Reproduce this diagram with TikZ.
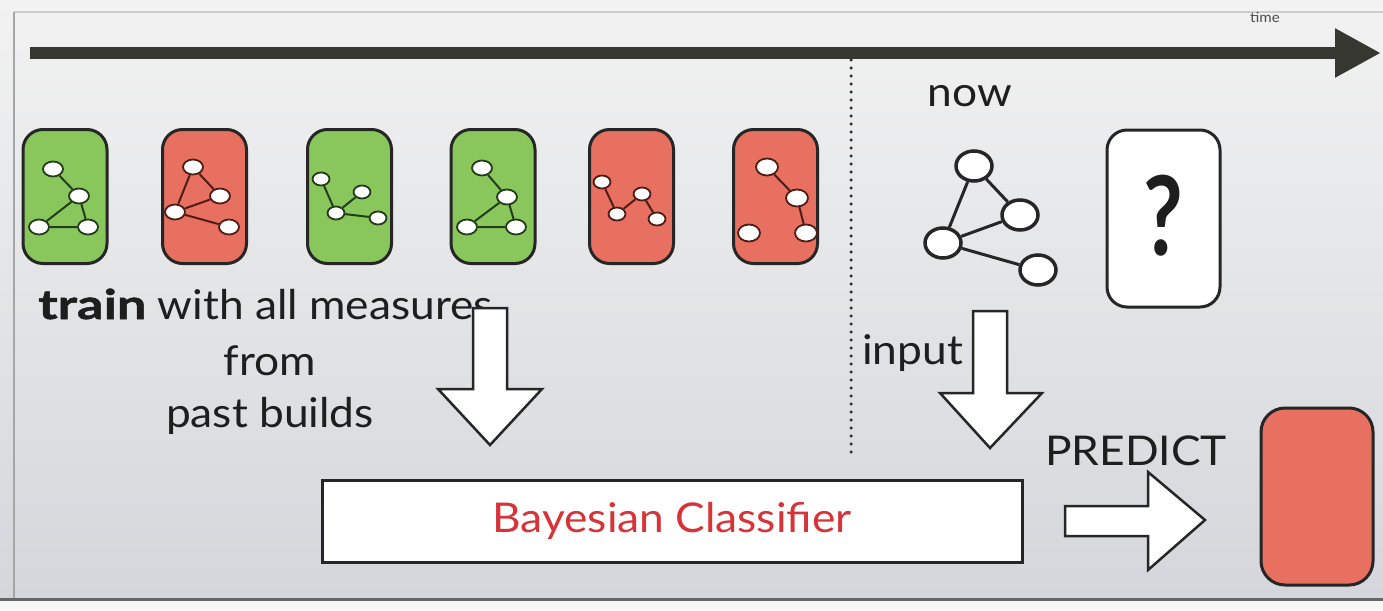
\documentclass[tikz,border=0pt]{standalone}
\usepackage{fontspec}
\usepackage{graphicx}
\setmainfont{Lato}[FakeStretch=1.08]
\newfontfamily\trainfont{Lato}[FakeStretch=1.28,FakeBold=1.2]
\usetikzlibrary{shapes.geometric,arrows.meta}
\definecolor{bgtop}{RGB}{242,242,242}
\definecolor{bgbot}{RGB}{212,214,219}
\definecolor{cgreen}{RGB}{137,199,92}
\definecolor{cred}{RGB}{232,112,96}
\definecolor{gedge}{RGB}{35,60,25}
\definecolor{redge}{RGB}{80,28,22}
\definecolor{tarrow}{RGB}{55,55,50}
\definecolor{clred}{RGB}{214,52,56}
\definecolor{txt}{RGB}{30,30,30}
\tikzset{
  card/.style={draw=black!85, line width=3pt, rounded corners=20pt, minimum width=84pt, minimum height=134pt, inner sep=0pt},
  gnode/.style={ellipse, draw=#1, fill=white, line width=1.8pt, minimum width=20pt, minimum height=15pt, inner sep=0pt},
  gedgestyle/.style={draw=#1, line width=2pt},
  bignode/.style={ellipse, draw=black!85, fill=white, line width=3.5pt, minimum width=36pt, minimum height=30pt, inner sep=0pt},
  bigedge/.style={draw=black!85, line width=3pt},
  blockarrow/.style={fill=white, draw=black!85, line width=2.5pt, line join=miter},
  lbl/.style={font=\fontsize{41}{43}\selectfont, text=txt, inner sep=0pt},
  dotline/.style={draw=black!80, line width=3.5pt, line cap=round, dash pattern=on 0pt off 8pt}
}
\begin{document}
\begin{tikzpicture}[x=1pt,y=-1pt]
\useasboundingbox (0,0) rectangle (1383,610);
\shade[top color=bgtop, bottom color=bgbot] (0,0) rectangle (1383,600);
\fill[black!3] (0,600) rectangle (1383,610);
\draw[black!20, line width=1.5pt] (14,12) -- (1383,12);
\draw[black!35, line width=2pt] (14,12) -- (14,598);
\draw[black!60, line width=3pt] (0,599) -- (1383,599);

% time arrow
\coordinate (ta) at (30,53);
\coordinate (tb) at (1381,53);
\draw[tarrow, line width=12pt, -{Triangle[length=46pt,width=46pt]}] (ta) -- (tb);
\node[font=\fontsize{14}{16}\selectfont, text=black!70] (time) at (1265,17) {time};

% dotted separator
\coordinate (d1) at (851,60);
\coordinate (d2) at (851,452);
\draw[dotline] (d1) -- (d2);

% past build cards
\node[card, fill=cgreen] (c1) at (65,196.5) {};
\node[card, fill=cred] (c2) at (204.5,196.5) {};
\node[card, fill=cgreen] (c3) at (349.5,196.5) {};
\node[card, fill=cgreen] (c4) at (493,196.5) {};
\node[card, fill=cred] (c5) at (631.5,196.5) {};
\node[card, fill=cred] (c6) at (775.5,196.5) {};

% card 1 graph
\node[gnode=gedge] (a1) at (53,169) {};
\node[gnode=gedge] (a2) at (79,196) {};
\node[gnode=gedge] (a3) at (39,227) {};
\node[gnode=gedge] (a4) at (88,227) {};
\draw[gedgestyle=gedge] (a1) -- (a2) (a2) -- (a3) (a2) -- (a4) (a3) -- (a4);
% card 2 graph
\node[gnode=redge] (b1) at (193,167) {};
\node[gnode=redge] (b2) at (220,196) {};
\node[gnode=redge] (b3) at (175,212) {};
\node[gnode=redge] (b4) at (229,227) {};
\draw[gedgestyle=redge] (b1) -- (b2) (b1) -- (b3) (b3) -- (b2) (b3) -- (b4);
% card 3 graph
\node[gnode=gedge, minimum width=17pt, minimum height=13pt] (e1) at (321,179) {};
\node[gnode=gedge, minimum width=17pt, minimum height=13pt] (e2) at (362,192) {};
\node[gnode=gedge, minimum width=17pt, minimum height=13pt] (e3) at (336,213) {};
\node[gnode=gedge, minimum width=17pt, minimum height=13pt] (e4) at (378,218) {};
\draw[gedgestyle=gedge] (e1) -- (e3) (e3) -- (e2) (e3) -- (e4);
% card 4 graph
\node[gnode=gedge] (f1) at (482,168) {};
\node[gnode=gedge] (f2) at (507,197) {};
\node[gnode=gedge] (f3) at (467,227) {};
\node[gnode=gedge] (f4) at (516,227) {};
\draw[gedgestyle=gedge] (f1) -- (f2) (f2) -- (f3) (f2) -- (f4) (f3) -- (f4);
% card 5 graph
\node[gnode=redge, minimum width=17pt, minimum height=13pt] (h1) at (602,182) {};
\node[gnode=redge, minimum width=17pt, minimum height=13pt] (h2) at (617,214) {};
\node[gnode=redge, minimum width=17pt, minimum height=13pt] (h3) at (642,194) {};
\node[gnode=redge, minimum width=17pt, minimum height=13pt] (h4) at (657,219) {};
\draw[gedgestyle=redge] (h1) -- (h2) (h2) -- (h3) (h3) -- (h4);
% card 6 graph
\node[gnode=redge, minimum width=22pt, minimum height=17pt] (k1) at (767,167) {};
\node[gnode=redge, minimum width=22pt, minimum height=17pt] (k2) at (797,198) {};
\node[gnode=redge, minimum width=22pt, minimum height=17pt] (k3) at (749,233) {};
\node[gnode=redge, minimum width=22pt, minimum height=17pt] (k4) at (806,233) {};
\draw[gedgestyle=redge] (k1) -- (k2) (k2) -- (k4);

% current build graph
\node[lbl] (now) at (970,96) {now};
\node[bignode] (m1) at (974,166) {};
\node[bignode] (m2) at (1020,215) {};
\node[bignode] (m3) at (943,243) {};
\node[bignode] (m4) at (1038,270) {};
\draw[bigedge] (m1) -- (m2) (m1) -- (m3) (m3) -- (m2) (m3) -- (m4);

% unknown card
\node[card, fill=white, minimum width=113pt, minimum height=177pt] (q) at (1163.5,218.5) {};
\node[font=\fontsize{100}{100}\selectfont\bfseries, text=txt, inner sep=0pt] (qm) at (1163,216) {\scalebox{0.8}[1.1]{?}};

% texts
\node[lbl, anchor=base west] (train) at (38,319) {{\trainfont\bfseries train} with all measures};
\node[lbl, anchor=base] (from) at (270,375) {from};
\node[lbl, anchor=base] (past) at (270,427) {past builds};
\node[lbl, anchor=base west] (input) at (862,364) {input};
\node[lbl, anchor=base west] (predict) at (1045,465) {PREDICT};

% block arrows
\draw[blockarrow] (473,308) -- (507,308) -- (507,389) -- (542,389) -- (490,445) -- (438,389) -- (473,389) -- cycle;
\draw[blockarrow] (973,311) -- (1007,311) -- (1007,393) -- (1042,393) -- (990,448) -- (940,393) -- (973,393) -- cycle;
\draw[blockarrow] (1065,506) -- (1148,506) -- (1148,472) -- (1205,520) -- (1148,570) -- (1148,536) -- (1065,536) -- cycle;

% classifier
\node[draw=black!85, fill=white, line width=3pt, minimum width=700pt, minimum height=82pt, inner sep=0pt, font=\fontsize{41}{43}\selectfont, text=clred] (clf) at (672,521) {Bayesian Classifier};

% predicted result
\node[card, fill=cred, minimum width=112pt, minimum height=177pt, rounded corners=24pt] (res) at (1317,496.5) {};
\end{tikzpicture}
\end{document}
